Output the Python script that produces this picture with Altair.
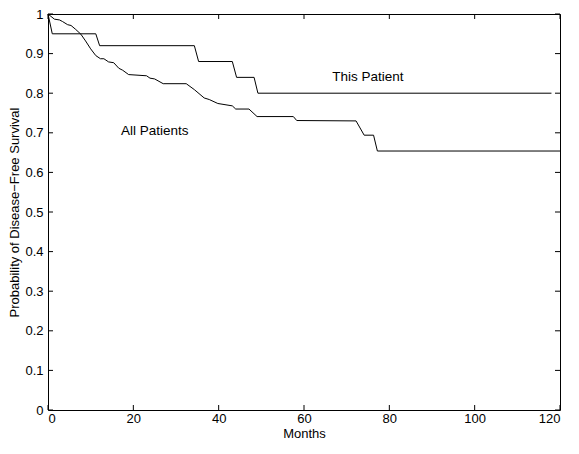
import altair as alt
import pandas as pd

# Kaplan-Meier style curves (months, probability)
all_months = [0, 1.5, 2.7, 3.4, 4.6, 5.4, 6.5, 7.7, 8.8, 10.0, 11.2, 12.3, 13.1, 14.2, 15.4,
              16.6, 17.5, 18.9, 23.1, 23.9, 25.0, 27.0, 32.4, 34.3, 36.6, 37.8, 39.8, 43.2,
              44.0, 47.1, 49.0, 57.5, 58.3, 72.2, 74.1, 76.3, 77.2, 120]
all_surv = [1.0, 0.987, 0.985, 0.981, 0.973, 0.971, 0.961, 0.949, 0.932, 0.912, 0.895, 0.887,
            0.887, 0.879, 0.877, 0.863, 0.858, 0.847, 0.844, 0.838, 0.836, 0.824, 0.824, 0.809,
            0.788, 0.784, 0.774, 0.768, 0.760, 0.760, 0.741, 0.741, 0.731, 0.730, 0.694, 0.694,
            0.654, 0.654]

pt_months = [0, 1.0, 11.2, 12.1, 34.3, 35.3, 43.2, 44.2, 48.3, 49.2, 118]
pt_surv = [1.0, 0.95, 0.95, 0.92, 0.92, 0.88, 0.88, 0.84, 0.84, 0.80, 0.80]

x_ticks = [0, 20, 40, 60, 80, 100, 120]
y_ticks = [0, 0.1, 0.2, 0.3, 0.4, 0.5, 0.6, 0.7, 0.8, 0.9, 1.0]

label_text = ["This Patient", "All Patients"]
label_month = [66.6, 17.1]
label_surv = [0.831, 0.694]

W, H = 512, 396
FONT = "Liberation Sans"

df = pd.concat([
    pd.DataFrame({"month": all_months, "surv": all_surv, "series": "All Patients",
                  "idx": range(len(all_months))}),
    pd.DataFrame({"month": pt_months, "surv": pt_surv, "series": "This Patient",
                  "idx": range(len(pt_months))}),
])
xt = pd.DataFrame({"month": x_ticks})
yt = pd.DataFrame({"surv": y_ticks})
lab = pd.DataFrame({"month": label_month, "surv": label_surv, "text": label_text})

xs = alt.Scale(domain=[0, 120], nice=False, zero=False)
ys = alt.Scale(domain=[0, 1], nice=False, zero=False)

lines = alt.Chart(df).mark_line(color="black", strokeWidth=1).encode(
    x=alt.X("month:Q", scale=xs,
            axis=alt.Axis(values=x_ticks, tickCount=len(x_ticks), title="Months",
                          labelPadding=2, titlePadding=2, labelOverlap=False)),
    y=alt.Y("surv:Q", scale=ys,
            axis=alt.Axis(values=y_ticks, tickCount=len(y_ticks), format=".1~f",
                          title="Probability of Disease\u2212Free Survival",
                          labelPadding=5, titlePadding=3, labelOverlap=False)),
    detail="series:N",
    order="idx:Q",
)

xtick_top = alt.Chart(xt).mark_rule(color="black", strokeWidth=1).encode(
    x=alt.X("month:Q", scale=xs), y=alt.value(0), y2=alt.value(5))
xtick_bot = alt.Chart(xt).mark_rule(color="black", strokeWidth=1).encode(
    x=alt.X("month:Q", scale=xs), y=alt.value(H), y2=alt.value(H - 5))
ytick_left = alt.Chart(yt).mark_rule(color="black", strokeWidth=1).encode(
    y=alt.Y("surv:Q", scale=ys), x=alt.value(0), x2=alt.value(5))
ytick_right = alt.Chart(yt).mark_rule(color="black", strokeWidth=1).encode(
    y=alt.Y("surv:Q", scale=ys), x=alt.value(W), x2=alt.value(W - 5))

labels = alt.Chart(lab).mark_text(align="left", baseline="alphabetic", font=FONT,
                                  fontSize=13.5, color="black").encode(
    x=alt.X("month:Q", scale=xs), y=alt.Y("surv:Q", scale=ys), text="text:N")

chart = alt.layer(lines, xtick_top, xtick_bot, ytick_left, ytick_right, labels).properties(
    width=W, height=H,
    autosize=alt.AutoSizeParams(type="none"),
    padding={"left": 40, "top": 6, "right": 11, "bottom": 31},
    background="white",
).configure_view(stroke="black", strokeWidth=1).configure_axis(
    grid=False, ticks=False, domain=False, labelOverlap=False,
    labelFont=FONT, labelFontSize=13, labelColor="black",
    titleFont=FONT, titleFontSize=13, titleFontWeight="normal", titleColor="black",
)

chart.save("out.html", embed_options={"renderer": "svg", "actions": False})
